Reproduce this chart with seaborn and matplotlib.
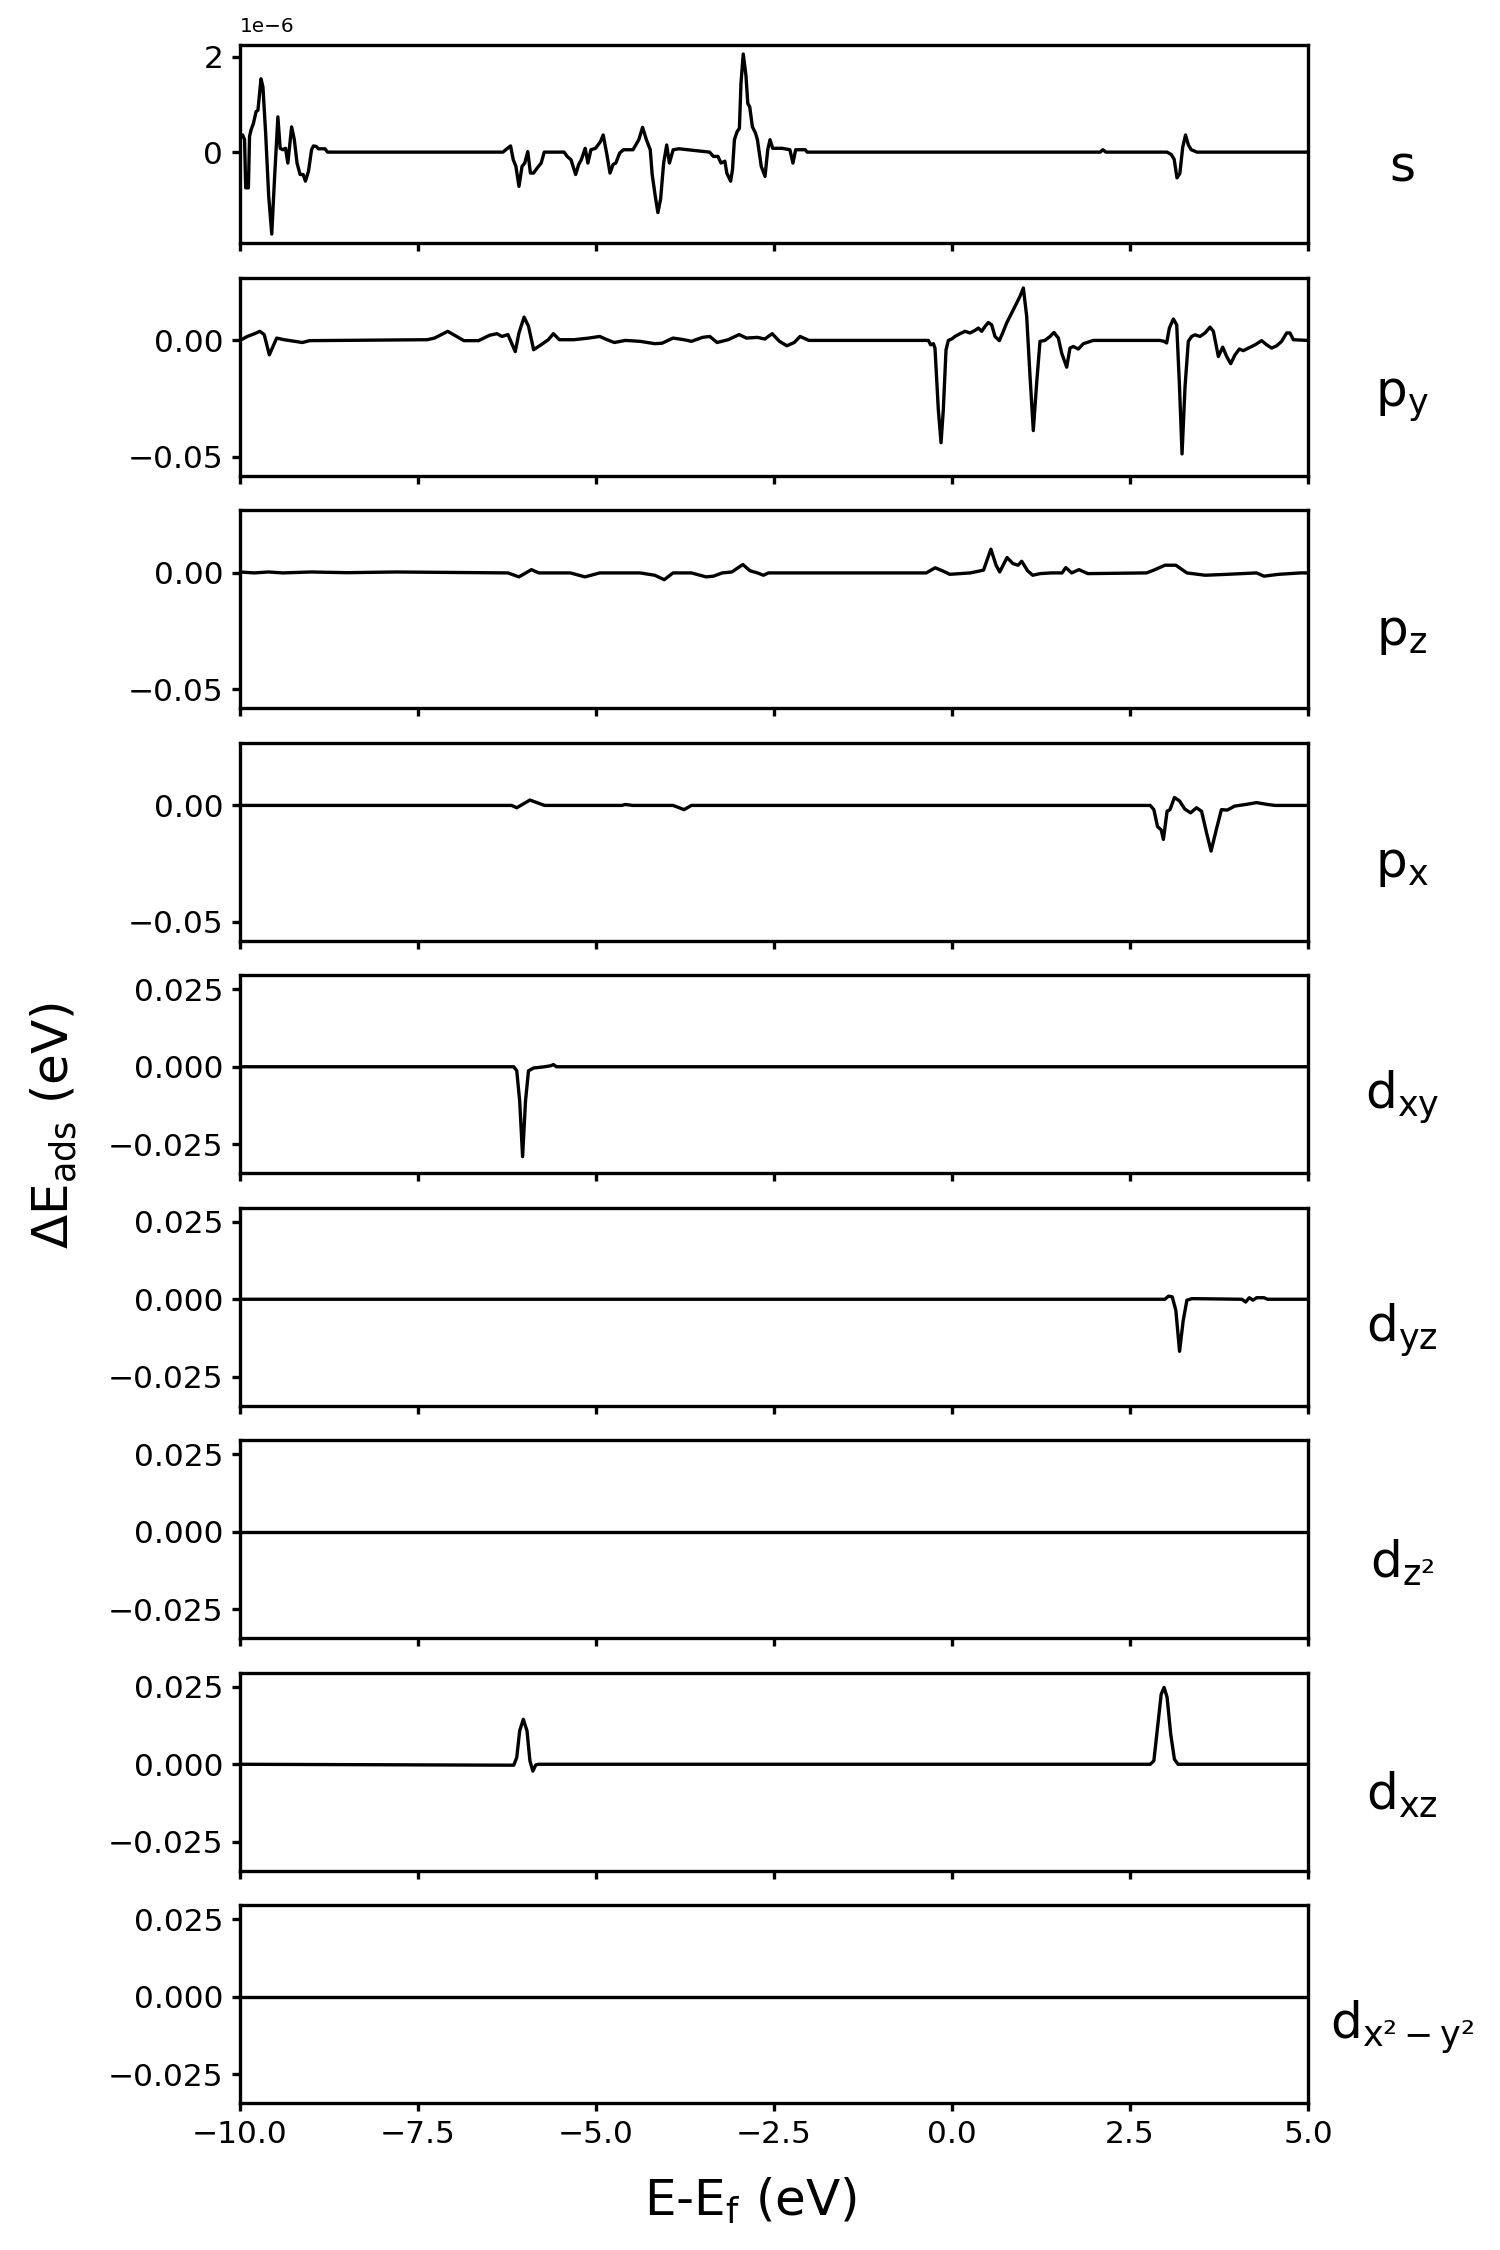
import numpy as np
import pandas as pd
import seaborn as sns
import matplotlib
matplotlib.use("Agg")
import matplotlib.pyplot as plt

# orbital labels (right side)
orbital_labels = ["s", r"$\mathrm{p_y}$", r"$\mathrm{p_z}$", r"$\mathrm{p_x}$",
                  r"$\mathrm{d_{xy}}$", r"$\mathrm{d_{yz}}$", r"$\mathrm{d_{z²}}$",
                  r"$\mathrm{d_{xz}}$", r"$\mathrm{d_{x²-y²}}$"]

# s (units of 1e-6 eV)
e_s = [-10.0, -9.963, -9.936, -9.92, -9.882, -9.866, -9.844, -9.812, -9.774, -9.748,
       -9.705, -9.678, -9.640, -9.597, -9.554, -9.516, -9.468, -9.436, -9.398, -9.361,
       -9.328, -9.275, -9.237, -9.199, -9.156, -9.113, -9.081, -9.038, -8.995, -8.968,
       -8.930, -8.898, -8.807, -8.769,
       -6.307, -6.243, -6.200, -6.162, -6.125, -6.082, -6.039, -6.001, -5.958, -5.921,
       -5.878, -5.824, -5.770, -5.727, -5.448, -5.405, -5.351, -5.286, -5.243, -5.206,
       -5.152, -5.114, -5.071, -5.007, -4.937, -4.899, -4.846, -4.803, -4.760, -4.722,
       -4.668, -4.614, -4.480, -4.399, -4.346, -4.292, -4.238, -4.211, -4.168, -4.131,
       -4.093, -4.050, -4.007, -3.969, -3.916, -3.835, -3.405, -3.351, -3.287, -3.244,
       -3.190, -3.163, -3.109, -3.083, -3.056, -3.018, -2.986, -2.964, -2.932, -2.894,
       -2.868, -2.841, -2.803, -2.760, -2.733, -2.679, -2.626, -2.588, -2.556, -2.518,
       -2.384, -2.277, -2.234, -2.196, -2.061, -2.034,
       2.08, 2.12, 2.16, 3.02, 3.08, 3.12, 3.16, 3.20, 3.24, 3.28, 3.32, 3.36, 3.44, 5.0]
s_vals = [0.33, 0.36, 0.26, -0.75, -0.75, 0.33, 0.47, 0.60, 0.85, 0.88,
          1.54, 1.37, 0.40, -0.92, -1.72, -0.58, 0.74, 0.08, 0.05, 0.08,
          -0.23, 0.53, 0.26, -0.23, -0.47, -0.47, -0.61, -0.40, 0.05, 0.13,
          0.12, 0.07, 0.07, 0.0,
          0.0, 0.08, 0.13, -0.16, -0.30, -0.72, -0.30, -0.23, 0.01, -0.44,
          -0.44, -0.33, -0.23, 0.0, 0.0, -0.09, -0.16, -0.47, -0.26, -0.16,
          0.08, -0.23, 0.05, 0.08, 0.22, 0.36, -0.06, -0.44, -0.26, -0.23,
          -0.02, 0.05, 0.05, 0.26, 0.52, 0.26, 0.05, -0.47, -0.92, -1.27,
          -0.99, -0.23, 0.15, -0.23, 0.05, 0.07, 0.0, -0.09, -0.09, -0.23,
          -0.19, -0.44, -0.61, -0.37, 0.26, 0.43, 0.50, 1.44, 2.06, 1.61,
          1.02, 0.95, 0.53, 0.40, 0.26, -0.30, -0.51, 0.05, 0.26, 0.08,
          0.08, 0.05, -0.23, 0.05, 0.05, 0.0,
          0.0, 0.05, 0.0, 0.0, -0.05, -0.15, -0.54, -0.45, 0.10, 0.36, 0.15, 0.05, 0.0, 0.0]

e_py = [-10.0, -9.897, -9.794, -9.722, -9.660, -9.588, -9.536, -9.485, -9.381, -9.227,
        -9.124, -9.021, -7.371, -7.268, -7.082, -6.959, -6.856, -6.649, -6.495, -6.392,
        -6.320, -6.237, -6.134, -6.082, -6.010, -5.948, -5.876, -5.773, -5.670, -5.598,
        -5.515, -5.309, -5.103, -4.948, -4.845, -4.742, -4.588, -4.381, -4.175, -4.072,
        -3.918, -3.763, -3.660, -3.505, -3.402, -3.299, -3.144, -2.990, -2.887, -2.732,
        -2.629, -2.526, -2.423, -2.320, -2.216, -2.134, -2.010,
        -0.332, -0.300, -0.262, -0.239, -0.192, -0.154, -0.122, -0.084, -0.051, -0.005,
        0.042, 0.113, 0.183, 0.253, 0.323, 0.370, 0.417, 0.464, 0.510, 0.557,
        0.604, 0.665, 0.721, 0.768, 0.815, 0.862, 0.908, 0.955, 1.002, 1.049,
        1.096, 1.142, 1.189, 1.236, 1.306, 1.377, 1.433, 1.494, 1.540, 1.611,
        1.657, 1.704, 1.774, 1.845, 1.985, 2.921, 2.978, 3.015, 3.053, 3.109,
        3.156, 3.193, 3.231, 3.273, 3.319, 3.366, 3.413, 3.483, 3.554, 3.624,
        3.671, 3.741, 3.802, 3.858, 3.914, 3.975, 4.036, 4.092, 4.162, 4.256,
        4.349, 4.420, 4.490, 4.560, 4.630, 4.700, 4.747, 4.794, 5.0]
py_vals = [0.0, 0.0017, 0.0029, 0.0039, 0.0025, -0.0062, -0.0026, 0.001, 0.0003, -0.0004,
           -0.0009, -0.0001, 0.0003, 0.001, 0.0039, 0.0017, -0.0001, -0.0001, 0.0022, 0.0029,
           0.0017, 0.0025, -0.0048, 0.0032, 0.0100, 0.0061, -0.0040, -0.0019, 0.0003, 0.0029,
           0.0003, 0.0003, 0.001, 0.0017, 0.0003, -0.0009, 0.0, -0.0004, -0.0014, -0.0012,
           0.001, 0.0003, -0.0004, 0.0013, 0.0017, -0.0009, 0.0003, 0.0025, 0.001, 0.0013,
           0.0006, 0.0029, -0.0004, -0.0023, -0.0009, 0.0017, 0.0,
           0.0, -0.0019, -0.0014, -0.0033, -0.0298, -0.0439, -0.0298, -0.004, 0.0, 0.0006,
           0.0017, 0.0029, 0.0039, 0.0032, 0.0043, 0.0053, 0.0039, 0.006, 0.0077, 0.0067,
           0.0017, -0.0001, 0.0039, 0.0075, 0.0103, 0.0132, 0.016, 0.0189, 0.0225, 0.0103,
           -0.0155, -0.0387, -0.0183, -0.0004, 0.0, 0.0017, 0.0034, 0.001, -0.0054, -0.0115,
           -0.0033, -0.0026, -0.0037, -0.0014, 0.0, 0.0, -0.0004, -0.0011, 0.0053, 0.0092,
           0.0067, -0.0183, -0.0487, -0.0198, -0.0004, 0.0017, 0.0024, 0.0017, 0.0032, 0.0057,
           0.0039, -0.0069, -0.0029, -0.0069, -0.01, -0.0062, -0.0037, -0.0044, -0.0033, -0.0019,
           -0.0001, -0.0019, -0.0033, -0.0023, -0.0004, 0.0032, 0.0032, 0.0003, 0.0]

e_pz = [-10.0, -9.8, -9.6, -9.4, -9.0, -8.5, -7.8, -6.237, -6.082, -5.907,
        -5.804, -5.361, -5.155, -4.948, -4.381, -4.175, -4.041, -3.918, -3.660, -3.454,
        -3.351, -3.227, -3.093, -2.938, -2.835, -2.732, -2.649, -2.577, -0.361, -0.237,
        -0.134, -0.031, 0.258, 0.443, 0.546, 0.619, 0.670, 0.773, 0.856, 0.928,
        0.979, 1.062, 1.134, 1.237, 1.392, 1.546, 1.598, 1.680, 1.784, 1.907,
        2.732, 2.835, 2.990, 3.144, 3.299, 3.557, 3.866, 4.278, 4.381, 4.588,
        4.897, 5.0]
pz_vals = [0.0004, 0.0, 0.0004, 0.0, 0.0004, 0.0001, 0.0004, 0.0, -0.0017, 0.0014,
           0.0, 0.0, -0.0017, 0.0, 0.0, -0.001, -0.0029, 0.0, 0.0, -0.0017,
           -0.0014, 0.0, 0.0004, 0.0036, 0.0009, 0.0, -0.001, 0.0, 0.0, 0.0022,
           0.0009, -0.0006, 0.0, 0.0012, 0.0102, 0.0033, 0.0004, 0.0066, 0.0040, 0.0033,
           0.005, 0.0009, -0.001, -0.0003, 0.0, 0.0, 0.0023, 0.0, 0.0014, -0.0003,
           0.0, 0.0012, 0.0033, 0.0033, 0.0, -0.001, -0.0006, 0.0, -0.0014, -0.0006,
           0.0, 0.0]

e_px = [-10.0, -6.186, -6.113, -5.928, -5.722, -4.639, -4.588, -4.485, -3.918, -3.763,
        -3.660, 2.784, 2.835, 2.887, 2.938, 2.969, 3.021, 3.062, 3.124, 3.196,
        3.268, 3.351, 3.433, 3.505, 3.577, 3.639, 3.711, 3.784, 3.866, 3.969,
        4.124, 4.278, 4.433, 4.536, 5.0]
px_vals = [0.0, 0.0, -0.001, 0.0023, 0.0, 0.0, 0.0004, 0.0, 0.0, -0.0018,
           0.0, 0.0, -0.0018, -0.0091, -0.0105, -0.0146, -0.0025, -0.0018, 0.0034, 0.0019,
           -0.0015, -0.0032, -0.001, -0.0025, -0.012, -0.0196, -0.0105, -0.0018, -0.0020, -0.0003,
           0.0004, 0.0012, 0.0004, 0.0, 0.0]

e_dxy = [-10.0, -6.155, -6.113, -6.072, -6.031, -5.990, -5.948, -5.876, -5.722, -5.639,
         -5.598, -5.557, 5.0]
dxy_vals = [0.0, 0.0, -0.0013, -0.011, -0.029, -0.011, -0.0013, -0.0004, 0.0, 0.0003,
            0.0007, 0.0, 0.0]

e_dyz = [-10.0, 2.990, 3.041, 3.093, 3.144, 3.196, 3.247, 3.299, 3.371, 4.072,
         4.124, 4.175, 4.227, 4.278, 4.381, 4.433, 5.0]
dyz_vals = [0.0, 0.0, 0.001, 0.0008, -0.0036, -0.0168, -0.0069, -0.0003, 0.0002, 0.0,
            -0.0009, 0.0005, -0.0003, 0.0005, 0.0005, 0.0, 0.0]

e_dz2 = [-10.0, 5.0]
dz2_vals = [0.0, 0.0]

e_dxz = [-10.0, -6.155, -6.113, -6.072, -6.021, -5.969, -5.928, -5.887, -5.845, -5.804,
         2.784, 2.835, 2.887, 2.938, 2.979, 3.021, 3.072, 3.124, 3.175, 5.0]
dxz_vals = [0.0, -0.0003, 0.0022, 0.0108, 0.0145, 0.0108, 0.0011, -0.0022, -0.0002, 0.0,
            0.0, 0.0011, 0.0119, 0.0226, 0.0248, 0.0216, 0.0097, 0.0016, 0.0, 0.0]

e_dx2y2 = [-10.0, 5.0]
dx2y2_vals = [0.0, 0.0]

series = [(e_s, [v * 1e-6 for v in s_vals]), (e_py, py_vals), (e_pz, pz_vals), (e_px, px_vals),
          (e_dxy, dxy_vals), (e_dyz, dyz_vals), (e_dz2, dz2_vals), (e_dxz, dxz_vals),
          (e_dx2y2, dx2y2_vals)]

sns.set_style("ticks", {"axes.edgecolor": "black", "xtick.color": "black",
                        "ytick.color": "black", "text.color": "black",
                        "axes.labelcolor": "black"})
plt.rcParams["font.family"] = ["DejaVu Sans"]
plt.rcParams["mathtext.default"] = "regular"

fig, axes = plt.subplots(9, 1, figsize=(5, 7.5), dpi=300, sharex=True)
fig.subplots_adjust(left=0.16, right=0.872, top=0.980, bottom=0.0653, hspace=0.174)

p_lim = (-0.058, 0.027)
d_lim = (-0.0343, 0.0296)

for i, (ax, (e, v)) in enumerate(zip(axes, series)):
    df = pd.DataFrame({"E": e, "val": v})
    sns.lineplot(data=df, x="E", y="val", ax=ax, color="black", linewidth=0.8,
                 estimator=None, sort=False)
    ax.set_xlabel("")
    ax.set_ylabel("")
    ax.set_xlim(-10, 5)
    for sp in ax.spines.values():
        sp.set_linewidth(0.8)
    ax.tick_params(axis="both", length=2.0, width=0.8, labelsize=7.5, pad=2)
    if i == 0:
        ax.set_yticks([0, 2e-6])
        ax.yaxis.get_offset_text().set_fontsize(4.8)
    elif i <= 3:
        ax.set_ylim(*p_lim)
        ax.set_yticks([-0.05, 0.0])
    else:
        ax.set_ylim(*d_lim)
        ax.set_yticks([-0.025, 0.0, 0.025])
    ax.text(1.088, 0.38, orbital_labels[i], transform=ax.transAxes,
            ha="center", va="center", fontsize=12)

axes[-1].set_xticks([-10, -7.5, -5, -2.5, 0, 2.5, 5])

fig.text(0.5, 0.022, r"E-E$_\mathrm{f}$ (eV)", ha="center", va="center", fontsize=12)
fig.text(0.036, 0.5, r"ΔE$_\mathrm{ads}$ (eV)", ha="center", va="center",
         rotation=90, fontsize=12)

fig.savefig("out.png", dpi=300)
